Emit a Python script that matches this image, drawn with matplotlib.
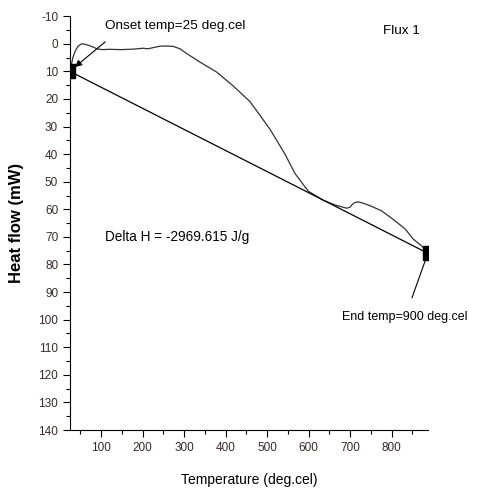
import matplotlib
matplotlib.use("Agg")
from matplotlib import pyplot as plt
from matplotlib.ticker import MultipleLocator

# DSC curve
temp = [25, 28, 32, 38, 45, 53, 62, 75, 90, 102, 120, 150, 180, 201, 213, 225,
        242, 260, 273, 290, 307, 338, 379, 420, 459, 507, 543, 567, 599, 635,
        665, 692, 700, 705, 712, 719, 730, 748, 775, 796, 815, 833, 852, 870,
        880, 888]
heat_flow = [10, 8, 5, 2.5, 0.8, 0, 0.2, 0.8, 1.8, 2.1, 2.0, 2.1, 1.9, 1.6, 1.8,
             1.4, 0.85, 0.8, 0.9, 1.8, 3.6, 6.6, 10.3, 15.5, 21, 31, 40, 47, 53.4,
             56.7, 58.5, 59.6, 59.2, 58.2, 57.5, 57.3, 57.7, 58.7, 60.5, 62.8, 65,
             67.2, 70.8, 73, 74.5, 76]

# baseline between onset and end points
base_x = [25, 888]
base_y = [10, 76]

plt.rcParams["font.family"] = ["Liberation Sans Narrow", "Liberation Sans", "DejaVu Sans"]
plt.rcParams["axes.unicode_minus"] = False

fig = plt.figure(figsize=(4.79, 4.92), dpi=100)
ax = fig.add_axes([0.146, 0.126, 0.748, 0.841])

ax.plot(temp, heat_flow, c="#333333", lw=0.9)
ax.plot(base_x, base_y, c="black", lw=0.9)

rect = [(-1.4, -2), (1.4, -2), (1.4, 2), (-1.4, 2), (-1.4, -2)]
ax.plot(base_x, base_y, ls="none", marker=rect, markersize=10, c="black")

ax.set_xlim(25, 888)
ax.set_ylim(140, -10)
ax.xaxis.set_major_locator(MultipleLocator(100))
ax.xaxis.set_minor_locator(MultipleLocator(50))
ax.yaxis.set_major_locator(MultipleLocator(10))
ax.yaxis.set_minor_locator(MultipleLocator(5))
ax.spines["top"].set_visible(False)
ax.spines["right"].set_visible(False)
ax.tick_params(which="major", length=5, width=0.8, labelsize=8.5, colors="black")
ax.tick_params(which="minor", length=3, width=0.8)
for lab in ax.get_xticklabels() + ax.get_yticklabels():
    lab.set_color("#3a2a2a")

ax.set_xlabel("Temperature (deg.cel)", fontsize=10, labelpad=14)
ax.set_ylabel("Heat flow (mW)", fontsize=12, fontweight="bold", labelpad=10)

# onset label and its arrow
ax.text(110, -6.5, "Onset temp=25 deg.cel", fontsize=9.7, ha="left", va="center")
ax.annotate("", xy=(37, 8.4), xytext=(110, -0.7),
            arrowprops=dict(arrowstyle="-|>", color="black", lw=0.8,
                            shrinkA=0, shrinkB=0, mutation_scale=10))

ax.text(780, -4.5, "Flux 1", fontsize=9.7, ha="left", va="center")
ax.text(110, 70, "Delta H = -2969.615 J/g", fontsize=9.8, ha="left", va="center")

# end label and its leader line
ax.text(681, 99, "End temp=900 deg.cel", fontsize=9.0, ha="left", va="center",
        clip_on=False)
ax.plot([849, 887], [92, 76], c="black", lw=0.8, clip_on=False)

plt.savefig("out.png", dpi=100)
